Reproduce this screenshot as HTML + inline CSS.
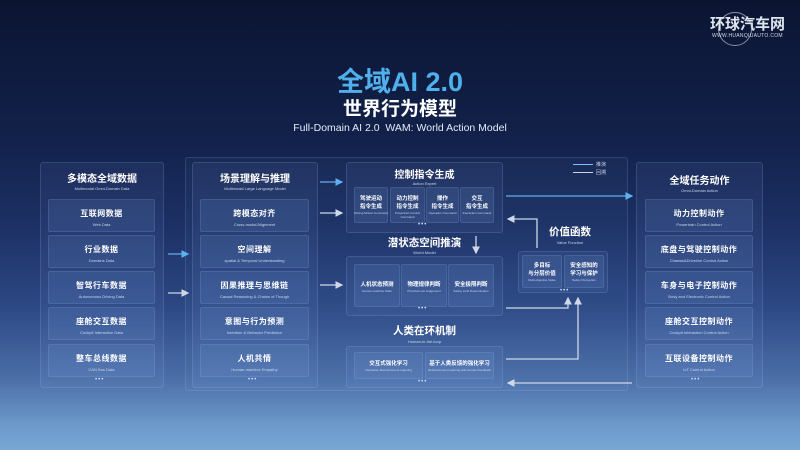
<!DOCTYPE html>
<html><head><meta charset="utf-8"><style>
*{margin:0;padding:0;box-sizing:border-box}
body{width:800px;height:450px;overflow:hidden;font-family:"Liberation Sans","Noto Sans CJK SC",sans-serif;color:#fff;
background:linear-gradient(180deg,#0b1532 0%,#12214a 30%,#1c3064 50%,#2c4884 68%,#4b6ea7 84%,#6b97c9 94%,#78a7d4 100%);position:relative}
.a{position:absolute}
.p{position:absolute;background:rgba(140,170,230,0.08);border:1px solid rgba(170,200,255,0.16);border-radius:3px}
.i{position:absolute;background:rgba(120,160,230,0.14);border:1px solid rgba(170,200,255,0.14);border-radius:2px;text-align:center}
.i b{display:block;font-size:8px;font-weight:bold;margin-top:8px;letter-spacing:.5px}
.i s{display:block;text-decoration:none;font-size:4px;color:#c8d6ee;margin-top:3px}
.t{position:absolute;text-align:center;font-weight:bold}
.st{position:absolute;text-align:center;font-size:4px;color:#c8d6ee}
.sm{position:absolute;text-align:center;font-size:5.5px;font-weight:bold;line-height:8px}
.sm s{display:block;text-decoration:none;font-size:3px;font-weight:normal;line-height:4px;color:#c8d6ee}
.d{position:absolute;font-size:6px;color:#cfe0ff;letter-spacing:1px}
</style></head><body>
<div class="a" style="left:718px;top:12px;width:34px;height:34px;border-radius:50%;border:1.5px solid rgba(220,228,240,0.6)"></div>
<div class="a" style="left:710px;top:17px;font-size:15px;font-weight:bold;color:#dfe6f0;line-height:16px">环球汽车网</div>
<div class="a" style="left:712px;top:33px;font-size:5px;color:#cfd8e6;letter-spacing:.3px">WWW.HUANQIUAUTO.COM</div>
<div class="t" style="left:0;width:800px;top:60px;font-size:27px;color:#4fb0ec">全域AI 2.0</div>
<div class="t" style="left:0;width:800px;top:94px;font-size:19px">世界行为模型</div>
<div class="a" style="left:0;width:800px;top:122px;text-align:center;font-size:10.5px;color:#e4ebf7">Full-Domain AI 2.0&nbsp; WAM: World Action Model</div>

<div class="p" style="left:185px;top:157px;width:443px;height:234px;background:rgba(140,170,230,0.04)"></div>

<div class="p" style="left:40px;top:162px;width:124px;height:226px"></div>
<div class="t" style="left:40px;width:124px;top:170px;font-size:10px">多模态全域数据</div>
<div class="st" style="left:40px;width:124px;top:186px">Multimodal Omni-Domain Data</div>
<div class="i" style="left:48px;top:199px;width:107px;height:33px"><b>互联网数据</b><s>Web Data</s></div>
<div class="i" style="left:48px;top:235px;width:107px;height:33px"><b>行业数据</b><s>Domains Data</s></div>
<div class="i" style="left:48px;top:271px;width:107px;height:33px"><b>智驾行车数据</b><s>Autonomous Driving Data</s></div>
<div class="i" style="left:48px;top:307px;width:107px;height:33px"><b>座舱交互数据</b><s>Cockpit Interaction Data</s></div>
<div class="i" style="left:48px;top:344px;width:107px;height:33px"><b>整车总线数据</b><s>CAN Bus Data</s></div>
<div class="d" style="left:95px;top:377px">•••</div>

<div class="p" style="left:192px;top:162px;width:126px;height:226px"></div>
<div class="t" style="left:192px;width:126px;top:170px;font-size:10px">场景理解与推理</div>
<div class="st" style="left:192px;width:126px;top:186px">Multimodal Large Language Model</div>
<div class="i" style="left:200px;top:199px;width:109px;height:33px"><b>跨模态对齐</b><s>Cross-modal Alignment</s></div>
<div class="i" style="left:200px;top:235px;width:109px;height:33px"><b>空间理解</b><s>spatial &amp; Temporal Understanding</s></div>
<div class="i" style="left:200px;top:271px;width:109px;height:33px"><b>因果推理与思维链</b><s>Causal Reasoning &amp; Chains of Though</s></div>
<div class="i" style="left:200px;top:307px;width:109px;height:33px"><b>意图与行为预测</b><s>Intention &amp; Behavior Prediction</s></div>
<div class="i" style="left:200px;top:344px;width:109px;height:33px"><b>人机共情</b><s>Human-machine Empathy</s></div>
<div class="d" style="left:248px;top:377px">•••</div>

<div class="p" style="left:346px;top:162px;width:157px;height:71px"></div>
<div class="t" style="left:346px;width:157px;top:166px;font-size:10px">控制指令生成</div>
<div class="st" style="left:346px;width:157px;top:181px">Action Expert</div>
<div class="i" style="left:354px;top:187px;width:34px;height:36px"></div>
<div class="i" style="left:390px;top:187px;width:35px;height:36px"></div>
<div class="i" style="left:426px;top:187px;width:33px;height:36px"></div>
<div class="i" style="left:460px;top:187px;width:34px;height:36px"></div>
<div class="sm" style="left:354px;width:34px;top:195px">驾驶运动<br>指令生成<s>Driving Motion Command</s></div>
<div class="sm" style="left:390px;width:35px;top:195px">动力控制<br>指令生成<s>Powertrain Control Command</s></div>
<div class="sm" style="left:426px;width:33px;top:195px">操作<br>指令生成<s>Operation Command</s></div>
<div class="sm" style="left:460px;width:34px;top:195px">交互<br>指令生成<s>Interaction Command</s></div>
<div class="d" style="left:418px;top:222px">•••</div>

<div class="t" style="left:346px;width:157px;top:235px;font-size:10.5px">潜状态空间推演</div>
<div class="st" style="left:346px;width:157px;top:250px">World Model</div>
<div class="p" style="left:346px;top:256px;width:157px;height:60px"></div>
<div class="i" style="left:354px;top:264px;width:46px;height:43px"></div>
<div class="i" style="left:401px;top:264px;width:46px;height:43px"></div>
<div class="i" style="left:448px;top:264px;width:46px;height:43px"></div>
<div class="sm" style="left:354px;width:46px;top:281px">人机状态预测<s>Human-machine State</s></div>
<div class="sm" style="left:401px;width:46px;top:281px">物理规律判断<s>Physical Law Judgement</s></div>
<div class="sm" style="left:448px;width:46px;top:281px">安全极限判断<s>Safety Limit Determination</s></div>
<div class="d" style="left:418px;top:306px">•••</div>

<div class="t" style="left:346px;width:157px;top:323px;font-size:10.5px">人类在环机制</div>
<div class="st" style="left:346px;width:157px;top:339px">Human-in-the-loop</div>
<div class="p" style="left:346px;top:346px;width:157px;height:42px"></div>
<div class="i" style="left:354px;top:352px;width:69px;height:27px"></div>
<div class="i" style="left:425px;top:352px;width:69px;height:27px"></div>
<div class="sm" style="left:354px;width:69px;top:360px">交互式强化学习<s>Interactive Reinforcement Learning</s></div>
<div class="sm" style="left:425px;width:69px;top:360px">基于人类反馈的强化学习<s>Reinforcement Learning with Human Feedback</s></div>
<div class="d" style="left:418px;top:379px">•••</div>

<div class="t" style="left:530px;width:80px;top:224px;font-size:10.5px">价值函数</div>
<div class="st" style="left:530px;width:80px;top:240px">Value Function</div>
<div class="p" style="left:518px;top:251px;width:90px;height:42px"></div>
<div class="i" style="left:522px;top:255px;width:40px;height:33px"></div>
<div class="i" style="left:564px;top:255px;width:40px;height:33px"></div>
<div class="sm" style="left:522px;width:40px;top:262px">多目标<br>与分层价值<s>Multi-objective Value</s></div>
<div class="sm" style="left:564px;width:40px;top:262px">安全感知的<br>学习与保护<s>Safety Perception</s></div>
<div class="d" style="left:560px;top:288px">•••</div>

<div class="a" style="left:573px;top:164px;width:20px;height:1px;background:#7fc0f5"></div>
<div class="a" style="left:573px;top:172px;width:20px;height:1px;background:#c9d3e4"></div>
<div class="a" style="left:596px;top:161px;font-size:5px;color:#ccd">推演</div>
<div class="a" style="left:596px;top:169px;font-size:5px;color:#ccd">回溯</div>

<div class="p" style="left:636px;top:162px;width:127px;height:226px"></div>
<div class="t" style="left:636px;width:127px;top:172px;font-size:10px">全域任务动作</div>
<div class="st" style="left:636px;width:127px;top:188px">Omni-Domain Action</div>
<div class="i" style="left:645px;top:199px;width:108px;height:33px"><b>动力控制动作</b><s>Powertrain Control Action</s></div>
<div class="i" style="left:645px;top:235px;width:108px;height:33px"><b>底盘与驾驶控制动作</b><s>Chassis&amp;Driveline Control Action</s></div>
<div class="i" style="left:645px;top:271px;width:108px;height:33px"><b>车身与电子控制动作</b><s>Body and Electronic Control Action</s></div>
<div class="i" style="left:645px;top:307px;width:108px;height:33px"><b>座舱交互控制动作</b><s>Cockpit Interaction Control Action</s></div>
<div class="i" style="left:645px;top:344px;width:108px;height:33px"><b>互联设备控制动作</b><s>IoT Control Action</s></div>
<div class="d" style="left:691px;top:377px">•••</div>

<svg class="a" style="left:0;top:0" width="800" height="450">
<defs>
<marker id="mb" markerWidth="6" markerHeight="6" refX="5" refY="3" orient="auto"><path d="M0,0L6,3L0,6z" fill="#5fb0f0"/></marker>
<marker id="mg" markerWidth="6" markerHeight="6" refX="5" refY="3" orient="auto"><path d="M0,0L6,3L0,6z" fill="#d0d8e6"/></marker>
</defs>
<g fill="none" stroke-width="1.3">
<line x1="168" y1="254" x2="188" y2="254" stroke="#5fb0f0" marker-end="url(#mb)"/>
<line x1="168" y1="293" x2="188" y2="293" stroke="#d0d8e6" marker-end="url(#mg)"/>
<line x1="320" y1="182" x2="342" y2="182" stroke="#5fb0f0" marker-end="url(#mb)"/>
<line x1="320" y1="213" x2="342" y2="213" stroke="#d0d8e6" marker-end="url(#mg)"/>
<line x1="320" y1="285" x2="342" y2="285" stroke="#d0d8e6" marker-end="url(#mg)"/>
<line x1="506" y1="196" x2="632" y2="196" stroke="#5fb0f0" marker-end="url(#mb)"/>
<line x1="476" y1="236" x2="476" y2="253" stroke="#d0d8e6" marker-end="url(#mg)"/>
<polyline points="537,248 537,219 508,219" stroke="#d0d8e6" marker-end="url(#mg)"/>
<polyline points="506,308 568,308 568,298" stroke="#d0d8e6" marker-end="url(#mg)"/>
<polyline points="506,359 578,359 578,298" stroke="#d0d8e6" marker-end="url(#mg)"/>
<line x1="632" y1="383" x2="508" y2="383" stroke="#d0d8e6" marker-end="url(#mg)"/>
</g>
</svg>
</body></html>
